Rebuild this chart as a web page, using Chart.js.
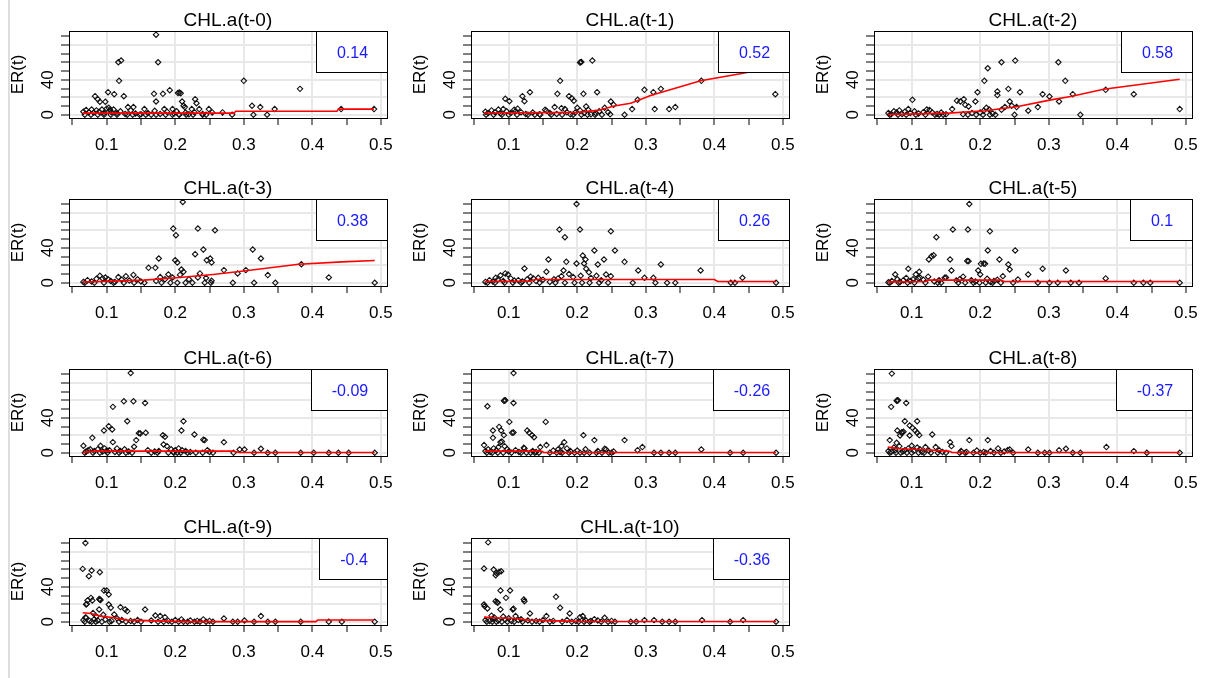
<!DOCTYPE html>
<html>
<head>
    <title>ER(t) vs lagged CHL.a</title>
    <script src="https://cdn.jsdelivr.net/npm/chart.js"></script>
    <style>
        body {
            margin: 0;
            background-color: #ffffff;
        }
        #wrap {
            position: relative;
            width: 1213px;
            height: 678px;
            overflow: hidden;
            background: #ffffff;
        }
        #edge {
            position: absolute;
            left: 8px;
            top: 0;
            width: 2px;
            height: 678px;
            background: #dddddd;
        }
        canvas.panel {
            position: absolute;
        }
    </style>
</head>
<body>
    <div id="wrap"><div id="edge"></div></div>

    <script>
        // panel titles and the correlation printed in each legend box
        var titles = ['CHL.a(t-0)', 'CHL.a(t-1)', 'CHL.a(t-2)', 'CHL.a(t-3)', 'CHL.a(t-4)', 'CHL.a(t-5)',
                      'CHL.a(t-6)', 'CHL.a(t-7)', 'CHL.a(t-8)', 'CHL.a(t-9)', 'CHL.a(t-10)'];
        var corrLabels = ['0.14', '0.52', '0.58', '0.38', '0.26', '0.1', '-0.09', '-0.26', '-0.37', '-0.4', '-0.36'];

        // axis ticks
        var xTicks = [0.05, 0.1, 0.15, 0.2, 0.25, 0.3, 0.35, 0.4, 0.45, 0.5];
        var xTickLabels = ['', '0.1', '', '0.2', '', '0.3', '', '0.4', '', '0.5'];
        var yTicks = [0, 10, 20, 30, 40, 50, 60, 70, 80, 90];
        var yTickLabels = ['0', '', '', '', '40', '', '', '', '', ''];

        // scatter points [CHL.a lagged, ER(t)]
        var pts0 = [[0.172,91.8],[0.117,60.2],[0.121,62.1],[0.175,60.2],[0.118,38.9],[0.300,38.9],[0.382,29.7],
            [0.102,25.9],[0.111,23.6],[0.125,21.3],[0.083,21.3],[0.087,17.9],[0.090,14.9],[0.098,14.9],
            [0.169,24.0],[0.182,24.0],[0.192,28.2],[0.172,15.2],[0.204,25.0],[0.206,25.5],[0.208,24.6],
            [0.210,15.2],[0.212,10.3],[0.214,8.8],[0.229,17.9],[0.231,13.3],[0.224,6.5],
            [0.312,10.3],[0.324,8.8],[0.345,6.5],[0.314,0],[0.334,0],[0.131,8.8],[0.139,8.8],
            [0.442,6.5],[0.490,6.5],[0.269,2.7],[0.283,0],[0.249,6.5],[0.254,2.7],[0.235,6.5],
            [0.184,6.5],[0.155,6.5],[0.165,0],[0.196,6.5],
            [0.066,3.5],[0.070,5.5],[0.074,3.0],[0.078,6.0],[0.081,2.5],[0.085,5.0],[0.089,3.5],[0.093,6.0],
            [0.096,2.0],[0.100,7.0],[0.103,8.0],[0.105,5.5],[0.107,3.0],[0.110,6.0],[0.115,2.0],[0.120,4.0],
            [0.127,1.0],[0.135,5.0],[0.142,1.5],[0.150,0.5],[0.160,2.0],[0.170,4.5],[0.178,1.0],[0.188,3.5],
            [0.198,1.5],[0.202,4.0],[0.205,0.5],[0.215,2.5],[0.220,0.5],[0.228,3.0],[0.240,1.0],[0.245,0],
            [0.068,0],[0.077,0],[0.087,0],[0.096,0],[0.106,0],[0.115,0],[0.130,0],[0.138,0],[0.148,0],
            [0.157,0],[0.172,0],[0.186,0],[0.196,0],[0.206,0],[0.216,0],[0.226,0],[0.240,0]];
        var pts1 = [[0.205,60.2],[0.206,60.6],[0.204,59.8],[0.222,62.1],[0.175,38.9],[0.171,24.0],[0.188,21.3],
            [0.192,19.0],[0.195,16.0],[0.209,24.0],[0.229,25.9],[0.131,25.9],[0.120,21.3],[0.123,15.6],
            [0.095,18.3],[0.101,15.6],[0.298,28.6],[0.311,25.9],[0.322,29.7],[0.288,17.1],[0.280,6.5],
            [0.269,0],[0.313,6.5],[0.334,6.5],[0.343,8.8],[0.381,38.9],[0.489,23.6],[0.249,15.2],[0.253,11.4],
            [0.213,9.5],[0.216,5.7],[0.167,8.8],[0.177,7.6],[0.182,6.5],[0.153,5.7],[0.155,4.5],[0.108,5.7],
            [0.110,4.0],[0.240,8.0],[0.245,3.0],[0.248,0.5],[0.232,4.0],[0.227,2.0],[0.200,8.0],[0.204,5.0],
            [0.197,2.5],
            [0.066,3.5],[0.070,2.0],[0.075,5.0],[0.080,3.0],[0.085,6.0],[0.088,1.5],[0.092,6.5],[0.097,4.0],
            [0.103,2.0],[0.113,7.0],[0.118,3.0],[0.125,1.0],[0.135,2.5],[0.145,0.5],[0.160,2.0],[0.170,1.0],
            [0.185,3.0],[0.190,0.5],[0.210,2.0],[0.220,0.5],
            [0.067,0],[0.078,0],[0.090,0],[0.100,0],[0.112,0],[0.128,0],[0.138,0],[0.146,0],[0.162,0],
            [0.178,0],[0.194,0],[0.206,0],[0.215,0],[0.226,0],[0.236,0]];
        var pts2 = [[0.231,60.2],[0.251,62.1],[0.211,53.3],[0.206,38.9],[0.314,60.2],[0.324,38.9],[0.241,29.7],
            [0.258,25.9],[0.225,26.7],[0.225,22.5],[0.196,25.9],[0.193,15.2],[0.176,17.9],[0.171,15.2],
            [0.166,16.0],[0.178,11.4],[0.183,9.5],[0.159,6.5],[0.101,17.1],[0.243,15.2],[0.246,10.3],
            [0.236,8.8],[0.231,5.7],[0.253,8.8],[0.250,0],[0.270,4.6],[0.284,8.8],[0.291,23.6],[0.301,21.0],
            [0.315,15.2],[0.335,23.6],[0.346,0],[0.383,28.6],[0.424,23.6],[0.491,6.5],[0.209,8.0],[0.205,4.5],
            [0.213,6.0],[0.200,2.5],[0.218,1.5],[0.222,0],[0.188,2.0],[0.175,0.5],
            [0.066,2.0],[0.070,0.5],[0.074,4.0],[0.078,2.5],[0.082,5.0],[0.086,1.0],[0.090,3.5],[0.095,6.5],
            [0.098,2.0],[0.104,4.0],[0.110,1.5],[0.117,3.0],[0.122,6.0],[0.126,5.5],[0.130,2.5],[0.137,1.0],
            [0.143,2.5],[0.150,0.5],
            [0.068,0],[0.080,0],[0.092,0],[0.106,0],[0.120,0],[0.134,0],[0.140,0],[0.146,0],[0.182,0],
            [0.194,0],[0.204,0],[0.214,0]];
        var pts3 = [[0.211,92.6],[0.197,62.1],[0.201,54.5],[0.233,62.1],[0.258,60.2],[0.241,38.1],[0.229,32.8],
            [0.200,25.9],[0.203,23.2],[0.176,27.8],[0.161,17.1],[0.171,17.1],[0.251,27.8],[0.253,23.2],
            [0.246,25.9],[0.313,38.1],[0.325,27.8],[0.303,14.5],[0.291,10.7],[0.271,14.5],[0.284,0],[0.315,0],
            [0.335,8.8],[0.346,0],[0.384,21.3],[0.424,6.1],[0.491,0],[0.209,15.2],[0.212,12.6],[0.236,10.7],
            [0.253,2.3],[0.233,6.0],[0.220,4.0],[0.207,9.0],[0.196,6.0],[0.190,9.5],[0.185,4.0],[0.178,6.5],
            [0.172,2.0],[0.245,5.5],
            [0.066,1.0],[0.072,3.0],[0.078,1.5],[0.085,4.5],[0.090,8.0],[0.094,5.0],[0.098,6.0],[0.102,4.0],
            [0.106,2.0],[0.112,1.0],[0.117,6.5],[0.122,3.5],[0.128,7.5],[0.133,2.5],[0.139,9.0],[0.145,4.0],
            [0.150,1.5],
            [0.068,0],[0.082,0],[0.096,0],[0.110,0],[0.125,0],[0.140,0],[0.155,0],[0.180,0],[0.193,0],
            [0.203,0],[0.215,0],[0.225,0],[0.243,0],[0.252,0]];
        var pts4 = [[0.199,90.3],[0.174,61.0],[0.182,52.2],[0.204,61.0],[0.249,59.0],[0.225,37.0],[0.255,37.0],
            [0.158,26.7],[0.184,24.0],[0.199,22.1],[0.208,31.2],[0.212,26.7],[0.210,22.1],[0.230,21.0],
            [0.239,26.7],[0.269,24.0],[0.322,21.0],[0.289,14.1],[0.380,14.1],[0.298,5.7],[0.311,5.7],
            [0.441,5.7],[0.281,0],[0.314,0],[0.331,0],[0.343,0],[0.123,16.4],[0.095,10.7],[0.088,8.4],
            [0.081,5.7],[0.155,12.6],[0.143,5.7],[0.180,14.1],[0.177,7.6],[0.242,9.5],[0.249,7.6],[0.213,16.0],
            [0.217,12.0],[0.205,8.0],[0.194,6.5],[0.188,10.0],[0.172,5.0],[0.166,4.0],[0.220,5.5],[0.228,8.0],
            [0.235,3.0],[0.424,0],[0.430,0],[0.490,0],
            [0.066,1.0],[0.072,3.0],[0.077,1.5],[0.084,3.5],[0.092,2.0],[0.099,9.5],[0.103,5.0],[0.108,2.5],
            [0.114,3.0],[0.120,1.5],[0.127,4.0],[0.132,7.0],[0.136,5.0],[0.140,2.0],[0.150,3.5],[0.160,1.0],
            [0.069,0],[0.080,0],[0.094,0],[0.106,0],[0.118,0],[0.130,0],[0.145,0],[0.168,0],[0.182,0],
            [0.196,0],[0.207,0],[0.218,0],[0.232,0],[0.245,0]];
        var pts5 = [[0.184,90.3],[0.136,52.2],[0.160,61.0],[0.182,61.0],[0.214,59.0],[0.211,37.0],[0.251,37.0],
            [0.125,26.7],[0.129,30.5],[0.132,31.6],[0.156,26.7],[0.183,24.8],[0.181,25.0],[0.201,21.7],
            [0.207,21.7],[0.205,22.0],[0.228,26.7],[0.241,21.0],[0.243,15.2],[0.197,14.1],[0.200,9.5],
            [0.158,14.1],[0.095,16.0],[0.076,9.5],[0.106,9.5],[0.111,12.6],[0.110,5.0],[0.112,6.0],[0.148,5.7],
            [0.150,6.0],[0.270,9.5],[0.291,16.0],[0.325,14.1],[0.383,5.0],[0.255,3.8],[0.233,7.6],[0.175,7.0],
            [0.187,3.0],[0.210,4.5],[0.220,2.0],[0.124,7.0],[0.133,1.5],[0.284,0],[0.301,0],[0.313,0],
            [0.332,0],[0.344,0],[0.424,0],[0.438,0],[0.448,0],[0.491,0],
            [0.066,0.5],[0.071,2.0],[0.079,4.0],[0.083,1.0],[0.088,3.0],[0.092,5.5],[0.098,2.0],[0.102,4.0],
            [0.117,3.5],[0.140,3.0],[0.165,2.5],[0.170,4.0],[0.193,1.5],[0.215,1.0],[0.225,3.5],
            [0.068,0],[0.081,0],[0.094,0],[0.104,0],[0.120,0],[0.138,0],[0.143,0],[0.168,0],[0.178,0],
            [0.190,0],[0.199,0],[0.208,0],[0.218,0],[0.230,0],[0.248,0]];
        var pts6 = [[0.135,91.4],[0.125,59.0],[0.139,59.0],[0.156,57.1],[0.109,52.6],[0.130,36.2],[0.212,36.2],
            [0.209,25.5],[0.228,21.0],[0.243,14.5],[0.241,15.0],[0.271,12.2],[0.149,22.1],[0.147,22.5],
            [0.157,22.9],[0.143,14.5],[0.140,6.9],[0.103,30.5],[0.108,26.7],[0.096,25.5],[0.079,17.1],
            [0.109,12.2],[0.182,20.2],[0.185,18.3],[0.183,9.5],[0.188,7.6],[0.294,3.8],[0.301,3.8],[0.325,4.6],
            [0.066,8.0],[0.076,4.0],[0.087,4.0],[0.091,8.0],[0.097,5.0],[0.104,3.0],[0.115,5.0],[0.120,2.0],
            [0.126,4.0],[0.160,3.0],[0.170,1.5],[0.194,4.0],[0.200,3.0],[0.205,5.0],[0.215,2.0],[0.222,1.0],
            [0.247,3.0],[0.250,1.0],[0.315,0],[0.335,0],[0.346,0],[0.383,0],[0.402,0],[0.424,0],[0.438,0],
            [0.453,0],[0.491,0],
            [0.070,1.5],[0.073,3.0],[0.082,2.0],[0.094,1.5],[0.100,2.5],[0.112,1.0],[0.132,1.5],[0.176,2.0],
            [0.197,1.0],[0.210,3.0],
            [0.068,0],[0.080,0],[0.090,0],[0.101,0],[0.118,0],[0.128,0],[0.137,0],[0.165,0],[0.174,0],
            [0.190,0],[0.198,0],[0.203,0],[0.208,0],[0.218,0],[0.230,0],[0.240,0],[0.255,0],[0.285,0]];
        var pts7 = [[0.107,91.4],[0.094,59.8],[0.095,60.2],[0.093,59.5],[0.107,57.1],[0.069,53.3],[0.101,35.4],
            [0.154,35.4],[0.077,25.5],[0.086,29.7],[0.089,25.5],[0.105,22.9],[0.107,23.3],[0.127,25.5],
            [0.130,22.9],[0.134,20.2],[0.137,17.9],[0.093,20.2],[0.088,12.2],[0.090,12.8],[0.077,17.1],
            [0.094,7.6],[0.064,8.8],[0.146,6.5],[0.155,8.8],[0.181,12.2],[0.177,7.6],[0.172,3.8],[0.209,20.2],
            [0.225,14.5],[0.269,14.5],[0.288,3.0],[0.295,6.5],[0.381,3.8],[0.122,5.7],[0.123,5.0],[0.242,3.8],
            [0.240,4.5],[0.312,0],[0.322,0],[0.334,0],[0.343,0],[0.423,0],[0.442,0],[0.490,0],[0.230,2.0],
            [0.253,1.5],[0.212,4.0],[0.190,2.0],[0.185,5.0],
            [0.066,2.0],[0.070,4.0],[0.073,1.0],[0.078,5.0],[0.082,3.0],[0.085,6.5],[0.098,4.0],[0.100,1.5],
            [0.110,3.0],[0.115,1.0],[0.135,2.0],[0.140,1.0],[0.165,2.5],[0.175,1.0],[0.200,2.5],
            [0.068,0],[0.076,0],[0.084,0],[0.092,0],[0.104,0],[0.118,0],[0.126,0],[0.132,0],[0.138,0],
            [0.144,0],[0.160,0],[0.170,0],[0.178,0],[0.188,0],[0.196,0],[0.204,0],[0.210,0],[0.218,0],
            [0.228,0],[0.236,0],[0.246,0],[0.250,0]];
        var pts8 = [[0.071,90.7],[0.079,59.8],[0.080,60.2],[0.078,59.5],[0.070,52.6],[0.092,57.1],[0.090,36.2],
            [0.108,36.2],[0.097,31.2],[0.101,28.6],[0.105,25.5],[0.108,22.9],[0.111,20.2],[0.079,25.5],
            [0.086,23.6],[0.085,23.0],[0.088,24.0],[0.083,19.8],[0.097,19.8],[0.068,14.5],[0.130,21.0],
            [0.156,12.2],[0.158,7.6],[0.184,14.5],[0.211,14.5],[0.078,11.4],[0.082,7.6],[0.120,6.5],[0.135,6.5],
            [0.226,5.0],[0.243,3.8],[0.270,3.8],[0.315,3.0],[0.325,4.6],[0.384,6.5],[0.424,1.9],[0.284,0],
            [0.294,0],[0.301,0],[0.335,0],[0.346,0],[0.443,0],[0.491,0],[0.108,6.0],[0.112,4.0],[0.100,8.0],
            [0.095,5.0],[0.074,6.0],[0.090,3.0],
            [0.066,2.0],[0.070,1.0],[0.076,3.0],[0.087,1.5],[0.103,2.0],[0.115,1.0],[0.125,2.5],[0.140,3.0],
            [0.145,1.0],[0.172,2.0],[0.180,1.0],[0.195,2.5],[0.205,1.0],[0.215,2.0],[0.235,1.5],[0.240,3.0],
            [0.068,0],[0.077,0],[0.084,0],[0.093,0],[0.100,0],[0.110,0],[0.118,0],[0.128,0],[0.138,0],
            [0.150,0],[0.170,0],[0.178,0],[0.190,0],[0.200,0],[0.208,0],[0.220,0],[0.230,0],[0.248,0]];
        var pts9 = [[0.069,90.3],[0.065,60.6],[0.078,58.7],[0.074,52.2],[0.090,56.8],[0.096,35.8],[0.100,35.8],
            [0.103,31.2],[0.072,24.4],[0.077,27.4],[0.079,24.4],[0.090,25.5],[0.089,26.0],[0.091,25.0],
            [0.070,19.8],[0.071,20.5],[0.103,19.8],[0.106,16.0],[0.120,16.8],[0.127,14.1],[0.130,12.2],
            [0.089,14.1],[0.156,14.1],[0.171,7.2],[0.178,6.5],[0.185,5.3],[0.070,4.6],[0.069,5.0],[0.111,8.4],
            [0.209,2.7],[0.241,2.7],[0.271,3.8],[0.301,1.5],[0.325,6.5],[0.491,0],[0.284,0],[0.291,0],
            [0.315,0],[0.335,0],[0.346,0],[0.383,0],[0.424,0],[0.443,0],[0.080,10.0],[0.085,6.0],[0.095,8.0],
            [0.115,4.0],[0.122,2.0],
            [0.066,2.0],[0.075,1.0],[0.082,3.0],[0.087,1.5],[0.098,2.5],[0.107,1.0],[0.135,1.0],[0.145,2.0],
            [0.165,1.5],[0.190,1.0],[0.200,2.0],[0.222,1.5],[0.232,1.0],[0.250,1.0],
            [0.068,0],[0.078,0],[0.084,0],[0.093,0],[0.104,0],[0.118,0],[0.128,0],[0.140,0],[0.150,0],
            [0.175,0],[0.183,0],[0.195,0],[0.205,0],[0.212,0],[0.218,0],[0.228,0],[0.236,0],[0.245,0],[0.255,0]];
        var pts10 = [[0.070,91.0],[0.064,61.0],[0.078,59.8],[0.082,56.0],[0.086,57.1],[0.089,57.9],[0.081,53.3],
            [0.088,35.8],[0.102,35.8],[0.096,27.4],[0.081,23.6],[0.084,21.7],[0.083,22.5],[0.065,17.9],
            [0.069,15.2],[0.064,19.8],[0.122,25.5],[0.123,23.6],[0.106,14.1],[0.107,15.0],[0.088,14.1],
            [0.169,28.6],[0.175,16.0],[0.189,9.5],[0.204,5.3],[0.208,6.5],[0.240,4.6],[0.131,9.5],[0.155,6.5],
            [0.298,1.9],[0.312,1.9],[0.382,1.9],[0.442,1.9],[0.278,0],[0.286,0],[0.324,0],[0.334,0],[0.343,0],
            [0.423,0],[0.490,0],[0.075,7.0],[0.079,5.0],[0.092,6.0],[0.100,4.0],[0.110,6.5],[0.118,3.0],
            [0.225,3.0],[0.230,1.5],
            [0.066,2.0],[0.072,1.0],[0.077,3.5],[0.085,1.5],[0.095,2.5],[0.104,1.0],[0.114,2.0],[0.128,1.5],
            [0.140,1.0],[0.150,2.0],[0.165,1.0],[0.185,2.0],[0.198,1.0],[0.212,2.0],[0.220,1.0],[0.250,1.0],
            [0.068,0],[0.076,0],[0.082,0],[0.090,0],[0.098,0],[0.108,0],[0.120,0],[0.134,0],[0.145,0],
            [0.160,0],[0.178,0],[0.192,0],[0.202,0],[0.210,0],[0.218,0],[0.235,0],[0.245,0],[0.255,0]];

        // red fitted curves
        var fit0 = [[0.065,1.9],[0.286,1.9],[0.288,4.0],[0.436,4.0],[0.438,6.5],[0.490,6.5]];
        var fit1 = [[0.064,2.0],[0.200,2.7],[0.230,5.0],[0.254,10.0],[0.278,13.3],[0.307,22.0],[0.380,38.9],[0.442,47.6],[0.490,56.0]];
        var fit2 = [[0.065,0.3],[0.154,1.9],[0.207,4.6],[0.255,9.5],[0.303,17.1],[0.332,21.0],[0.380,29.3],[0.491,40.8]];
        var fit3 = [[0.065,0.8],[0.154,3.0],[0.202,5.7],[0.255,9.5],[0.303,13.7],[0.380,21.3],[0.443,24.0],[0.491,25.5]];
        var fit4 = [[0.065,1.5],[0.130,1.9],[0.140,3.8],[0.400,3.8],[0.405,1.5],[0.490,1.5]];
        var fit5 = [[0.065,1.0],[0.120,1.5],[0.125,3.0],[0.230,3.0],[0.235,1.5],[0.490,1.5]];
        var fit6 = [[0.065,0.3],[0.082,1.9],[0.284,1.9],[0.294,0.3],[0.491,0.3]];
        var fit7 = [[0.065,1.9],[0.148,1.9],[0.151,0.3],[0.490,0.3]];
        var fit8 = [[0.065,6.5],[0.082,4.6],[0.111,3.8],[0.154,1.9],[0.159,0.3],[0.491,0.3]];
        var fit9 = [[0.065,10.3],[0.077,9.5],[0.091,6.5],[0.111,4.6],[0.130,1.9],[0.217,0.2],[0.405,0.2],[0.408,2.0],[0.490,2.0]];
        var fit10 = [[0.064,5.3],[0.078,4.6],[0.110,3.8],[0.129,1.9],[0.200,0.5],[0.490,0.3]];

        var allPts = [pts0, pts1, pts2, pts3, pts4, pts5, pts6, pts7, pts8, pts9, pts10];
        var allFits = [fit0, fit1, fit2, fit3, fit4, fit5, fit6, fit7, fit8, fit9, fit10];

        var FONT = '"Liberation Sans", Arial, sans-serif';
        var colLeft = [0, 402, 805];
        var rowTop = [0, 168, 338, 507];

        // box around the plot, the legend box with r and the rotated y labels
        var panelDeco = {
            id: 'panelDeco',
            afterDatasetsDraw: function(chart, args, opts) {
                var ctx = chart.ctx;
                var a = chart.chartArea;
                ctx.save();
                ctx.strokeStyle = '#000';
                ctx.lineWidth = 1;
                ctx.strokeRect(Math.round(a.left) + 0.5, Math.round(a.top) + 0.5,
                               Math.round(a.right - a.left), Math.round(a.bottom - a.top));

                ctx.font = '16px ' + FONT;
                var w = Math.round(ctx.measureText(opts.label).width + 40);
                var h = 41;
                var bx = Math.round(a.right) - w;
                var by = Math.round(a.top);
                ctx.fillStyle = '#fff';
                ctx.fillRect(bx, by, w, h);
                ctx.strokeRect(bx + 0.5, by + 0.5, w, h);
                ctx.fillStyle = '#1a1aff';
                ctx.textAlign = 'center';
                ctx.textBaseline = 'middle';
                ctx.fillText(opts.label, bx + w / 2 + 1, by + h / 2 + 2);

                ctx.fillStyle = '#000';
                ctx.font = '17px ' + FONT;
                yTicks.forEach(function(v, i) {
                    if (!yTickLabels[i]) return;
                    var py = chart.scales.y.getPixelForValue(v);
                    ctx.save();
                    ctx.translate(a.left - 21, py);
                    ctx.rotate(-Math.PI / 2);
                    ctx.fillText(yTickLabels[i], 0, 0);
                    ctx.restore();
                });
                ctx.restore();
            }
        };

        function createPanel(i) {
            var canvas = document.createElement('canvas');
            canvas.className = 'panel';
            canvas.width = 403;
            canvas.height = 169;
            canvas.style.left = colLeft[i % 3] + 'px';
            canvas.style.top = rowTop[Math.floor(i / 3)] + 'px';
            document.getElementById('wrap').appendChild(canvas);

            return new Chart(canvas.getContext('2d'), {
                plugins: [panelDeco],
                data: {
                    datasets: [
                        {
                            type: 'line',
                            data: allFits[i].map(function(p) { return { x: p[0], y: p[1] }; }),
                            borderColor: '#ff0000',
                            borderWidth: 1.6,
                            pointRadius: 0,
                            tension: 0,
                            order: 0
                        },
                        {
                            type: 'scatter',
                            data: allPts[i].map(function(p) { return { x: p[0], y: p[1] }; }),
                            pointStyle: 'rectRot',
                            pointRadius: 2.7,
                            borderColor: '#111111',
                            backgroundColor: 'rgba(0,0,0,0)',
                            borderWidth: 1.1,
                            order: 1
                        }
                    ]
                },
                options: {
                    responsive: false,
                    animation: false,
                    events: [],
                    layout: { padding: { top: 0, right: 14, bottom: 0, left: 0 } },
                    plugins: {
                        legend: { display: false },
                        tooltip: { enabled: false },
                        title: {
                            display: true,
                            text: titles[i],
                            fullSize: false,
                            color: '#000',
                            font: { family: FONT, size: 19, weight: 'normal', lineHeight: 1 },
                            padding: { top: 11, bottom: 1 }
                        },
                        panelDeco: { label: corrLabels[i] }
                    },
                    scales: {
                        x: {
                            type: 'linear',
                            min: 0.045,
                            max: 0.5087,
                            afterBuildTicks: function(scale) {
                                scale.ticks = xTicks.map(function(v) { return { value: v }; });
                            },
                            afterFit: function(scale) { scale.height = 51; },
                            ticks: {
                                autoSkip: false,
                                maxRotation: 0,
                                padding: 10,
                                color: '#000',
                                font: { family: FONT, size: 17 },
                                callback: function(value, index) { return xTickLabels[index]; }
                            },
                            grid: {
                                color: function(ctx) { return xTickLabels[ctx.index] ? '#e8e8e8' : 'rgba(0,0,0,0)'; },
                                lineWidth: 2,
                                tickColor: '#000',
                                tickWidth: 1,
                                tickLength: 7
                            },
                            border: { display: false }
                        },
                        y: {
                            type: 'linear',
                            min: -3.7,
                            max: 96,
                            afterBuildTicks: function(scale) {
                                scale.ticks = yTicks.map(function(v) { return { value: v }; });
                            },
                            afterFit: function(scale) { scale.width = 69; },
                            ticks: { display: false },
                            grid: {
                                color: function(ctx) { return (ctx.tick && ctx.tick.value % 20 === 0) ? '#e8e8e8' : 'rgba(0,0,0,0)'; },
                                lineWidth: 2,
                                tickColor: '#000',
                                tickWidth: 1,
                                tickLength: 8
                            },
                            border: { display: false },
                            title: {
                                display: true,
                                text: 'ER(t)',
                                color: '#000',
                                font: { family: FONT, size: 17 },
                                padding: { top: 8, bottom: 0 }
                            }
                        }
                    }
                }
            });
        }

        for (var i = 0; i < titles.length; i++) {
            createPanel(i);
        }
    </script>
</body>
</html>
